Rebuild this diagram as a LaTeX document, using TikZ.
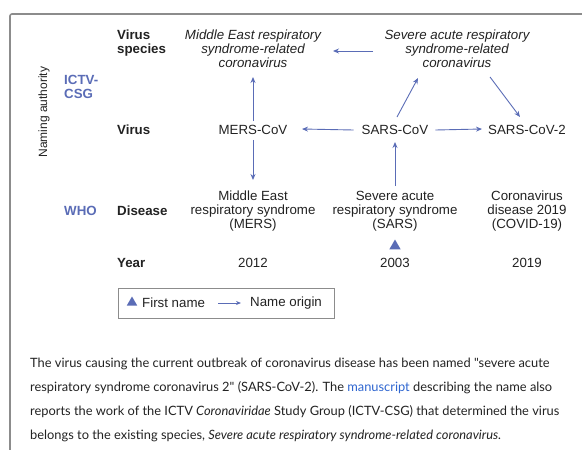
\documentclass[tikz,border=0pt]{standalone}
\usepackage{fontspec}
\setmainfont{Liberation Sans}
\newfontfamily\bodyfont{Lato}
\usepackage{xcolor}
\usetikzlibrary{arrows.meta,shapes.geometric}
\definecolor{nameblue}{HTML}{5A6CB6}
\definecolor{linkblue}{HTML}{2F66D0}
\definecolor{framegray}{HTML}{8C8C8C}
\definecolor{inktext}{HTML}{222222}

\begin{document}
\begin{tikzpicture}[x=1pt,y=-1pt,
  lbl/.style={font=\fontsize{13.3}{14}\selectfont, align=center, inner sep=0pt, text=inktext},
  species/.style={lbl, font=\fontsize{13.3}{14}\selectfont\itshape},
  rowhead/.style={lbl, font=\fontsize{13.3}{14}\selectfont\bfseries, anchor=west, align=left},
  authority/.style={rowhead, text=nameblue},
  origin/.style={draw=nameblue, line width=0.9pt, -{Stealth[length=6pt,width=5pt]}},
  firstname/.style={regular polygon, regular polygon sides=3, fill=nameblue, inner sep=0pt, minimum size=14pt},
  bodyline/.style={anchor=base west, inner sep=0pt, text=inktext, font=\bodyfont\fontsize{12.85}{15}\selectfont}]
\useasboundingbox (0,0) rectangle (582,450);
% frame
\draw[framegray, line width=1.6pt, rounded corners=2pt] (10,450) -- (10,14) -- (582,14);

% row heads and naming authorities
\node[rotate=90, lbl, font=\fontsize{12}{13}\selectfont] (authlabel) at (44,112) {Naming authority};
\node[authority] (ictv) at (64,87) {ICTV-\\CSG};
\node[authority] (who) at (64,211) {WHO};
\node[rowhead] (spechead) at (117,43) {Virus\\species};
\node[rowhead] (virushead) at (117,130) {Virus};
\node[rowhead] (diseasehead) at (117,211) {Disease};
\node[rowhead] (yearhead) at (117,263) {Year};

% species
\node[species] (merssp) at (253,49) {Middle East respiratory\\syndrome-related\\coronavirus};
\node[species] (sarssp) at (457,49) {Severe acute respiratory\\syndrome-related\\coronavirus};

% viruses
\node[lbl] (merscov) at (253,130) {MERS-CoV};
\node[lbl] (sarscov) at (395,130) {SARS-CoV};
\node[lbl] (sarscovtwo) at (527,130) {SARS-CoV-2};

% diseases
\node[lbl] (mers) at (253,211) {Middle East\\respiratory syndrome\\(MERS)};
\node[lbl] (sars) at (395,211) {Severe acute\\respiratory syndrome\\(SARS)};
\node[lbl] (covid) at (527,211) {Coronavirus\\disease 2019\\(COVID-19)};
\node[firstname, minimum size=13pt] (sarsfirst) at (395,246) {};

% years
\node[lbl] (ymers) at (253,263) {2012};
\node[lbl] (ysars) at (395,263) {2003};
\node[lbl] (ycovid) at (527,263) {2019};

% name origins
\draw[origin] (373,51) -- (333,51);
\draw[origin] (merscov.north) ++(0,-4) -- (253,77);
\draw[origin] (merscov.south) ++(0,5) -- (253,180);
\draw[origin] (sarscov.west) ++(-8,0) -- (302,129);
\draw[origin] (sarscov.east) ++(7,0) -- (482,129);
\draw[origin] (397,117) -- (418,78);
\draw[origin] (490,77) -- (520,117);
\draw[origin] (395,186) -- (395,142);

% legend
\draw[framegray, line width=0.8pt] (118,288) rectangle (334,318);
\node[firstname, minimum size=12pt] (legtri) at (132,302.5) {};
\node[lbl, anchor=west] (legfirst) at (142,303) {First name};
\coordinate (legarrowa) at (218,303);
\coordinate (legarrowb) at (241,303);
\draw[origin, line width=0.8pt, -{Stealth[length=5pt,width=4pt]}] (legarrowa) -- (legarrowb);
\node[lbl, anchor=west] (legorigin) at (250,303) {Name origin};

% caption text
\node[bodyline] (cap1) at (30,367) {The virus causing the current outbreak of coronavirus disease has been named "severe acute};
\node[bodyline] (cap2) at (30,391) {respiratory syndrome coronavirus 2" (SARS-CoV-2). The \textcolor{linkblue}{manuscript} describing the name also};
\node[bodyline] (cap3) at (30,415) {reports the work of the ICTV \textit{Coronaviridae} Study Group (ICTV-CSG) that determined the virus};
\node[bodyline] (cap4) at (30,439) {belongs to the existing species, \textit{Severe acute respiratory syndrome-related coronavirus.}};
\end{tikzpicture}
\end{document}
